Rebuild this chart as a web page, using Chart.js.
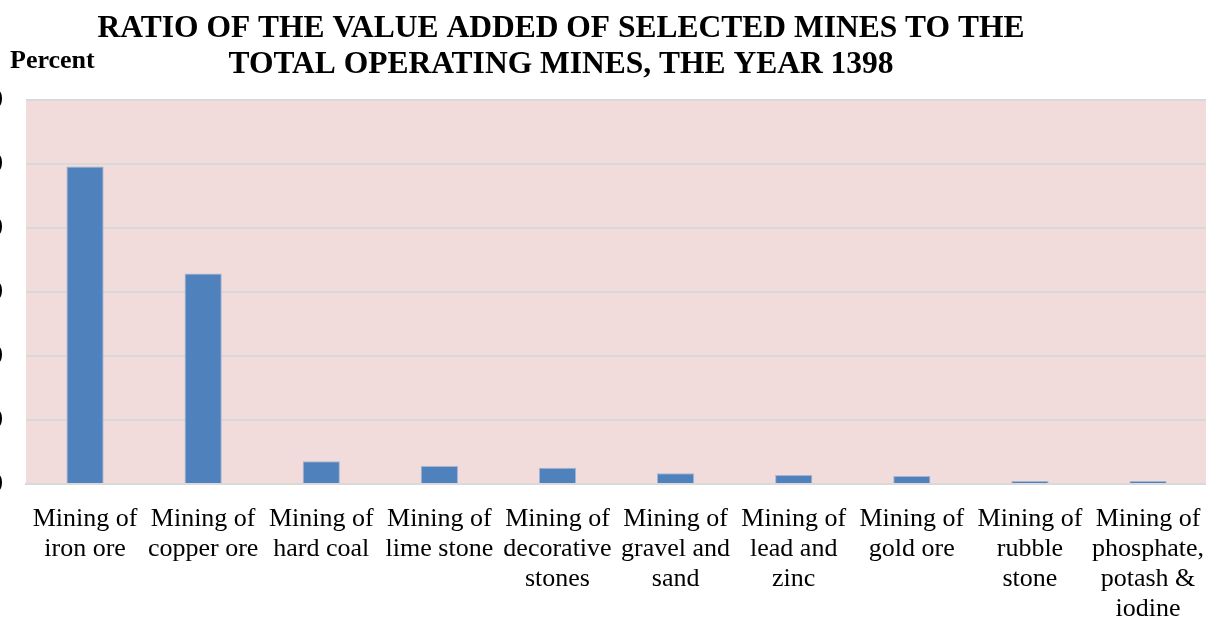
<!DOCTYPE html>
<html>
<head>
<meta charset="utf-8">
<script src="https://cdn.jsdelivr.net/npm/chart.js@4"></script>
<style>
  html, body { margin: 0; padding: 0; background: #fff; overflow: hidden; }
  #wrap { position: absolute; left: -40px; top: 0; width: 1256px; height: 617px; }
</style>
</head>
<body>
<div id="wrap"><canvas id="chart"></canvas></div>
<script>
// DATA
const categories = [
  ["Mining of", "iron ore"],
  ["Mining of", "copper ore"],
  ["Mining of", "hard coal"],
  ["Mining of", "lime stone"],
  ["Mining of", "decorative", "stones"],
  ["Mining of", "gravel and", "sand"],
  ["Mining of", "lead and", "zinc"],
  ["Mining of", "gold ore"],
  ["Mining of", "rubble", "stone"],
  ["Mining of", "phosphate,", "potash &", "iodine"],
];
const values = [49.6, 32.9, 3.55, 2.8, 2.55, 1.67, 1.4, 1.25, 0.45, 0.45];
const yTicks = [0, 10, 20, 30, 40, 50, 60];

const titleLines = [
  "RATIO OF THE VALUE ADDED OF SELECTED MINES TO THE",
  "TOTAL OPERATING MINES, THE YEAR 1398",
];
const yLabel = "Percent";

const SERIF = '"Liberation Serif", "Times New Roman", serif';

// fundo rosa da área do gráfico + títulos
const plotBg = {
  id: "plotBg",
  beforeDraw(chart) {
    const { ctx, chartArea: a } = chart;
    ctx.save();
    ctx.fillStyle = "#F2DCDB";
    ctx.fillRect(a.left, a.top, a.right - a.left, a.bottom - a.top);
    ctx.restore();
  },
  afterDraw(chart) {
    const ctx = chart.ctx;
    ctx.save();
    ctx.fillStyle = "#000";
    ctx.textBaseline = "alphabetic";
    ctx.font = "bold 31.5px " + SERIF;
    ctx.textAlign = "center";
    ctx.fillText(titleLines[0], 601, 37);
    ctx.fillText(titleLines[1], 601, 73);
    ctx.font = "bold 26px " + SERIF;
    ctx.textAlign = "left";
    ctx.fillText(yLabel, 50, 68);
    ctx.restore();
  },
};

new Chart(document.getElementById("chart"), {
  type: "bar",
  data: {
    labels: categories,
    datasets: [{
      data: values,
      backgroundColor: "#4F81BD",
      borderColor: "#A3B5D3",
      borderWidth: 1,
      barPercentage: 0.315,
      categoryPercentage: 1,
    }],
  },
  options: {
    responsive: true,
    maintainAspectRatio: false,
    animation: false,
    layout: { padding: { top: 100, right: 0, left: 0, bottom: 0 } },
    plugins: {
      legend: { display: false },
      tooltip: { enabled: false },
    },
    scales: {
      x: {
        grid: { display: false },
        border: { color: "#D9D9D9", width: 2 },
        afterFit(scale) {
          scale.height = 133;
        },
        ticks: {
          color: "#000",
          maxRotation: 0,
          autoSkip: false,
          padding: 12,
          font: { family: SERIF, size: 26, lineHeight: 1.154 },
        },
      },
      y: {
        min: 0,
        max: 60,
        afterBuildTicks(scale) {
          scale.ticks = yTicks.map((v) => ({ value: v }));
        },
        afterFit(scale) {
          scale.width = 66;
        },
        grid: { color: "#D9D9D9", lineWidth: 2, drawTicks: false },
        border: { display: false },
        ticks: {
          color: "#000",
          padding: 23,
          font: { family: SERIF, size: 26, weight: "bold" },
        },
      },
    },
  },
  plugins: [plotBg],
});
</script>
</body>
</html>
